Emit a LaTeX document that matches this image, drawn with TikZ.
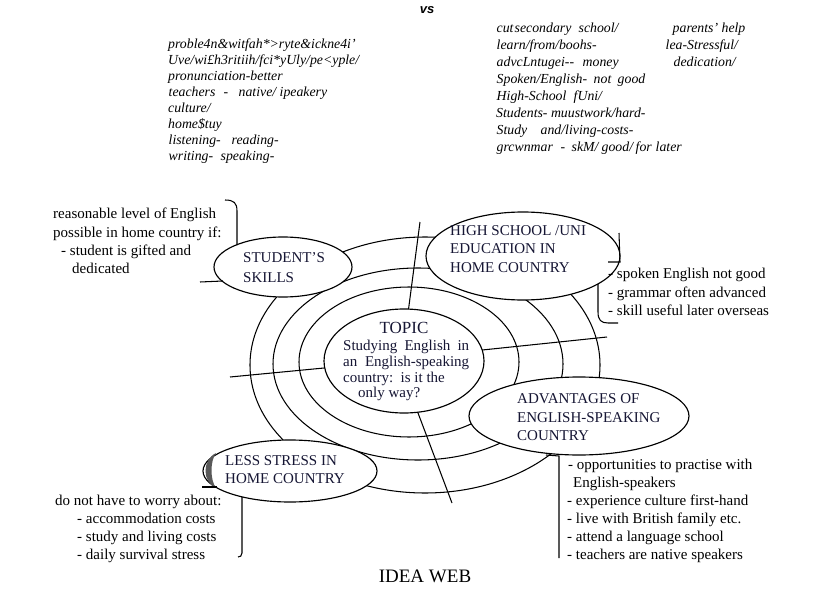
\documentclass[tikz,border=0pt]{standalone}
\usepackage{fontspec}
\setmainfont{Liberation Serif}
\newfontfamily\vsfont{Liberation Sans}
\usetikzlibrary{shapes.geometric}
\definecolor{labcol}{RGB}{22,22,52}
\newcommand\placeat[2]{\rlap{\hspace*{#1pt}#2}}
\begin{document}
\begin{tikzpicture}[x=1pt,y=-1pt,
  txt/.style={anchor=base west,inner sep=0pt,font=\fontsize{15}{18}\selectfont},
  lab/.style={txt,text=labcol},
  itl/.style={anchor=base west,inner sep=0pt,font=\fontsize{13.8}{16}\selectfont\itshape},
  ringline/.style={line width=1.05pt},
  bubble/.style={draw,ellipse,fill=white,line width=1.15pt,inner sep=0pt,outer sep=0pt},
  brk/.style={line width=1.05pt}]
\useasboundingbox[fill=white] (0,0) rectangle (831,597);

% rings
\draw[ringline] (409,362) ellipse [x radius=110pt, y radius=75pt];
\draw[ringline] (418,364) ellipse [x radius=145pt, y radius=96pt];
\draw[ringline] (425,365) ellipse [x radius=175pt, y radius=128pt];

% topic
\node[bubble,minimum width=160pt,minimum height=104pt] (topic) at (404,361) {};

% spokes
\coordinate (sN) at (420,222);
\coordinate (sW) at (230,377);
\coordinate (sE) at (607,337);
\coordinate (sS) at (452,503);
\draw[ringline] (topic.85) -- (sN);
\draw[ringline] (topic.185) -- (sW);
\draw[ringline] (topic.8) -- (sE);
\draw[ringline] (topic.-75) -- (sS);

% bubbles
\node[bubble,minimum width=138pt,minimum height=60pt] (skills) at (283,267) {};
\node[bubble,minimum width=194pt,minimum height=88pt] (school) at (523,256) {};
\node[bubble,minimum width=220pt,minimum height=78pt] (adv) at (579,416) {};
\node[bubble,minimum width=174pt,minimum height=62pt] (stress) at (290,471) {};

% shading on stress bubble
\fill[black!65] (216,453) .. controls (202,460) and (202,482) .. (216,488)
  .. controls (210,480) and (210,461) .. (216,453);
\draw[brk] (202,487) -- (217,487);

% brackets
\draw[brk] (225,200) .. controls (234,200) and (237,203) .. (237,211) -- (237,245);
\draw[brk] (200,282) -- (223,281);
\draw[brk] (619,233) -- (620,262) -- (608,262);
\draw[brk] (598,284) -- (598,312) .. controls (598,320) and (601,323) .. (608,323) -- (618,323);
\draw[brk] (546,455) -- (559,456) -- (559,558);
\draw[brk] (242,497) -- (242,553) .. controls (242,556) and (240,557) .. (238,557);

% top texts
\node[anchor=base,inner sep=0pt,font=\vsfont\bfseries\itshape\fontsize{13}{15}\selectfont] (vs) at (427,13) {vs};

\node[itl] (l1) at (168,48) {proble4n\&witfah*>ryte\&ickne4i'};
\node[itl] (l2) at (168,64) {Uve/wi£h3ritiih/fci*yUly/pe<yple/};
\node[itl] (l3) at (168,80) {pronunciation-better};
\node[itl] (l4) at (168,96) {\placeat{0}{teachers}\placeat{55}{-}\placeat{70}{native/}\placeat{111}{ipeakery}};
\node[itl] (l5) at (168,112) {culture/};
\node[itl] (l6) at (168,128) {home\$tuy};
\node[itl] (l7) at (168,144) {\placeat{0}{listening-}\placeat{63}{reading-}};
\node[itl] (l8) at (168,160) {\placeat{0}{writing-}\placeat{52}{speaking-}};

\node[itl] (r1) at (496,32) {\placeat{0}{cut}\placeat{18}{secondary}\placeat{82}{school/}\placeat{176}{parents' help}};
\node[itl] (r2) at (496,49) {\placeat{0}{learn/from/boohs-}\placeat{169}{lea-Stressful/}};
\node[itl] (r3) at (496,66) {\placeat{0}{advcLntugei-{}-}\placeat{86}{money}\placeat{177}{dedication/}};
\node[itl] (r4) at (496,83) {\placeat{0}{Spoken/English-}\placeat{97}{not}\placeat{121}{good}};
\node[itl] (r5) at (496,100) {\placeat{0}{High-School}\placeat{77}{fUni/}};
\node[itl] (r6) at (496,117) {Students- muustwork/hard-};
\node[itl] (r7) at (496,134) {\placeat{0}{Study}\placeat{44}{and/living-costs-}};
\node[itl] (r8) at (496,151) {\placeat{0}{grcwnmar}\placeat{64}{-}\placeat{75}{skM/}\placeat{105}{good/}\placeat{139}{for}\placeat{159}{later}};

% skills
\node[txt] (k1) at (53,218) {reasonable level of English};
\node[txt] (k2) at (53,237) {possible in home country if:};
\node[txt] (k3) at (61,255) {- student is gifted and};
\node[txt] (k4) at (72,273) {dedicated};
\node[lab] (kl1) at (243,262) {STUDENT'S};
\node[lab] (kl2) at (243,282) {SKILLS};

% school
\node[lab] (hl1) at (450,235) {HIGH SCHOOL /UNI};
\node[lab] (hl2) at (450,253) {EDUCATION IN};
\node[lab] (hl3) at (450,272) {HOME COUNTRY};
\node[txt] (h1) at (608,278) {- spoken English not good};
\node[txt] (h2) at (608,297) {- grammar often advanced};
\node[txt] (h3) at (608,315) {- skill useful later overseas};

% topic text
\node[anchor=base,inner sep=0pt,font=\fontsize{17}{20}\selectfont,text=labcol] (tt) at (404,333) {TOPIC};
\node[lab] (t1) at (343,350) {\makebox[126pt][s]{Studying English in}};
\node[lab] (t2) at (343,366) {\makebox[126pt][s]{an English-speaking}};
\node[lab] (t3) at (343,382) {country:\ \ is it the};
\node[lab] (t4) at (358,397) {only way?};

% advantages
\node[lab] (al1) at (517,403) {ADVANTAGES OF};
\node[lab] (al2) at (517,422) {ENGLISH-SPEAKING};
\node[lab] (al3) at (517,440) {COUNTRY};
\node[txt] (a1) at (568,469) {- opportunities to practise with};
\node[txt] (a2) at (573,487) {English-speakers};
\node[txt] (a3) at (567,505) {- experience culture first-hand};
\node[txt] (a4) at (567,523) {- live with British family etc.};
\node[txt] (a5) at (567,541) {- attend a language school};
\node[txt] (a6) at (567,559) {- teachers are native speakers};

% less stress
\node[lab] (sl1) at (225,465) {LESS STRESS IN};
\node[lab] (sl2) at (225,483) {HOME COUNTRY};
\node[txt] (s1) at (55,505) {do not have to worry about:};
\node[txt] (s2) at (77,523) {- accommodation costs};
\node[txt] (s3) at (77,541) {- study and living costs};
\node[txt] (s4) at (77,559) {- daily survival stress};

\node[anchor=base,inner sep=0pt,font=\fontsize{19}{22}\selectfont] (title) at (425,582) {IDEA WEB};
\end{tikzpicture}
\end{document}
